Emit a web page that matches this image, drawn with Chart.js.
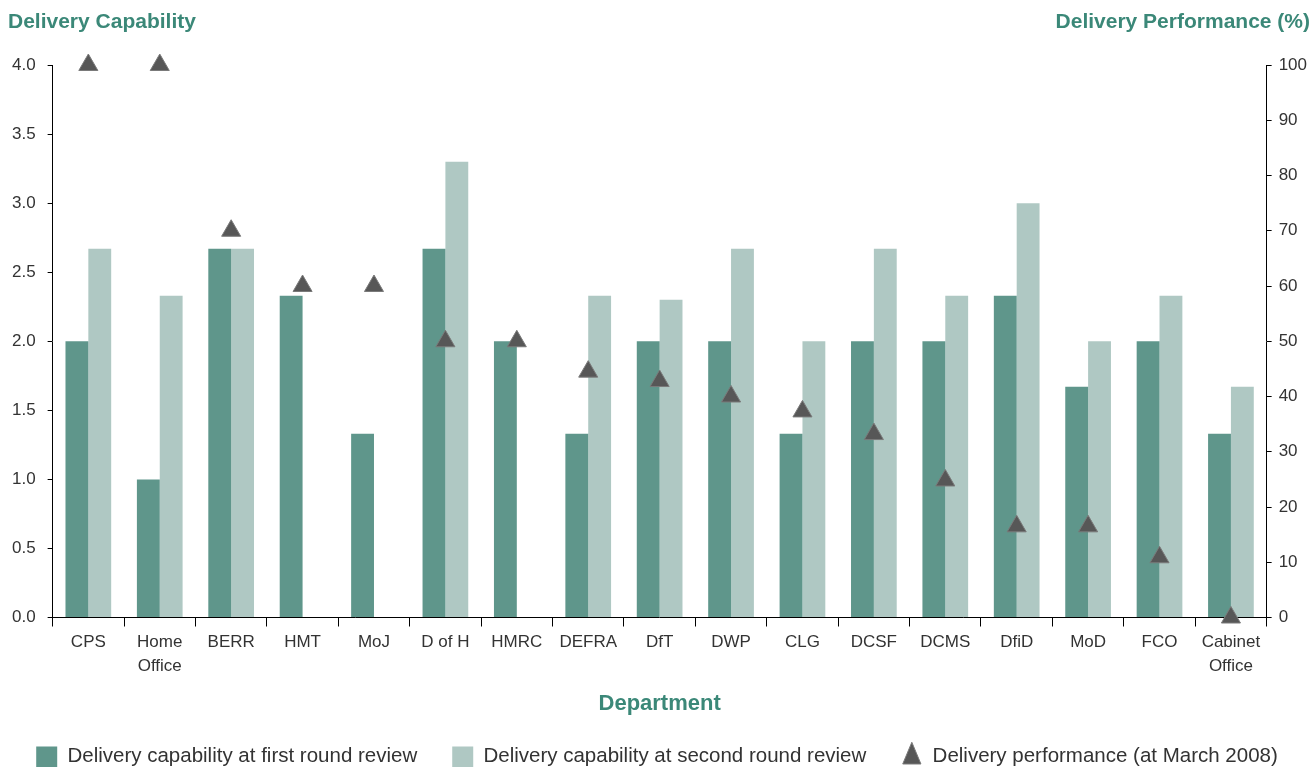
<!DOCTYPE html>
<html>
<head>
<meta charset="utf-8">
<title>Delivery Capability and Performance</title>
<script src="https://cdn.jsdelivr.net/npm/chart.js@4/dist/chart.umd.min.js"></script>
<style>
  html, body { margin: 0; padding: 0; background: #fff; }
  #wrap { width: 1315px; height: 767px; }
</style>
</head>
<body>
<div id="wrap"><canvas id="chart" width="1315" height="767"></canvas></div>
<script>
// данные
const departments = [
  'CPS', ['Home', 'Office'], 'BERR', 'HMT', 'MoJ', 'D of H', 'HMRC', 'DEFRA',
  'DfT', 'DWP', 'CLG', 'DCSF', 'DCMS', 'DfiD', 'MoD', 'FCO', ['Cabinet', 'Office']
];
const firstRound = [2.0, 1.0, 2.67, 2.33, 1.33, 2.67, 2.0, 1.33, 2.0, 2.0, 1.33, 2.0, 2.0, 2.33, 1.67, 2.0, 1.33];
const secondRound = [2.67, 2.33, 2.67, null, null, 3.3, null, 2.33, 2.3, 2.67, 2.0, 2.67, 2.33, 3.0, 2.0, 2.33, 1.67];
const performance = [100, 100, 70, 60, 60, 50, 50, 44.5, 42.8, 40, 37.3, 33.2, 24.8, 16.5, 16.5, 10.9, 0];

const TEAL_TEXT = '#3b8878';
const DARK_BAR = '#5f968b';
const LIGHT_BAR = '#afc8c3';
const TRIANGLE = '#575757';
const FONT = "'Liberation Sans', Arial, Helvetica, sans-serif";

// заголовки осей сверху слева и справа
const topTitles = {
  id: 'topTitles',
  afterDraw(chart) {
    const ctx = chart.ctx;
    ctx.save();
    ctx.fillStyle = TEAL_TEXT;
    ctx.font = 'bold 21px ' + FONT;
    ctx.textBaseline = 'middle';
    ctx.textAlign = 'left';
    ctx.fillText('Delivery Capability', 8, 22);
    ctx.textAlign = 'right';
    ctx.fillText('Delivery Performance (%)', 1310, 22);
    ctx.restore();
  }
};

new Chart(document.getElementById('chart').getContext('2d'), {
  data: {
    labels: departments,
    datasets: [
      {
        type: 'bar',
        label: 'Delivery capability at first round review',
        data: firstRound,
        backgroundColor: DARK_BAR,
        pointStyle: 'rect',
        yAxisID: 'y',
        categoryPercentage: 0.64,
        barPercentage: 1.0,
        order: 2
      },
      {
        type: 'bar',
        label: 'Delivery capability at second round review',
        data: secondRound,
        backgroundColor: LIGHT_BAR,
        pointStyle: 'rect',
        yAxisID: 'y',
        categoryPercentage: 0.64,
        barPercentage: 1.0,
        order: 2
      },
      {
        type: 'line',
        label: 'Delivery performance (at March 2008)',
        data: performance,
        yAxisID: 'y2',
        showLine: false,
        pointStyle: 'triangle',
        pointRadius: 11,
        pointHoverRadius: 11,
        backgroundColor: TRIANGLE,
        borderColor: '#7a7a7a',
        borderWidth: 1,
        clip: false,
        order: 1
      }
    ]
  },
  options: {
    responsive: false,
    animation: false,
    layout: { padding: { top: 65, left: 0, right: 1, bottom: -10 } },
    plugins: {
      tooltip: { enabled: false },
      legend: {
        position: 'bottom',
        labels: {
          usePointStyle: true,
          pointStyleWidth: 21,
          boxHeight: 21,
          padding: 35,
          color: '#333',
          font: { family: FONT, size: 20.5 },
          sort: (a, b) => a.datasetIndex - b.datasetIndex
        }
      }
    },
    scales: {
      x: {
        offset: true,
        grid: { offset: true, drawOnChartArea: false, drawTicks: true, tickLength: 9, color: '#000' },
        border: { color: '#000', width: 1 },
        ticks: {
          color: '#333',
          font: { family: FONT, size: 17, lineHeight: 1.4 },
          padding: 4,
          maxRotation: 0,
          autoSkip: false
        },
        title: {
          display: true,
          text: 'Department',
          color: TEAL_TEXT,
          font: { family: FONT, size: 22, weight: 'bold' },
          padding: { top: 9, bottom: -6 }
        }
      },
      y: {
        position: 'left',
        min: 0,
        max: 4,
        ticks: {
          stepSize: 0.5,
          color: '#333',
          font: { family: FONT, size: 17 },
          padding: 12,
          callback: v => v.toFixed(1)
        },
        grid: { drawOnChartArea: false, tickLength: 5, color: '#000' },
        border: { color: '#000', width: 1 }
      },
      y2: {
        position: 'right',
        min: 0,
        max: 100,
        ticks: {
          stepSize: 10,
          color: '#333',
          font: { family: FONT, size: 17 },
          padding: 7
        },
        grid: { drawOnChartArea: false, tickLength: 5, color: '#000' },
        border: { color: '#000', width: 1 }
      }
    }
  },
  plugins: [topTitles]
});
</script>
</body>
</html>
